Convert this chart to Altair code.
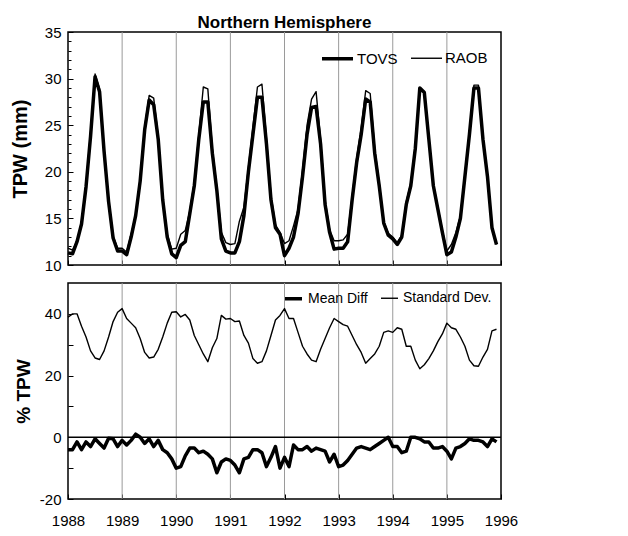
import altair as alt
import pandas as pd

# ---------------- data ----------------
year_ticks = [1988, 1989, 1990, 1991, 1992, 1993, 1994, 1995, 1996]
grid_years = [1989, 1990, 1991, 1992, 1993, 1994, 1995]
tpw_ticks = [10, 15, 20, 25, 30, 35]
tpw_minor = list(range(10, 36))
pct_ticks = [-20, -10, 0, 10, 20, 30, 40]

tovs = [
    11.3, 11.2, 12.5, 14.4, 18.4, 23.8, 30.2, 28.6, 22.2, 16.8, 12.9, 11.5,
    11.5, 11.1, 13.0, 15.3, 19.0, 24.5, 27.7, 27.2, 23.5, 17.0, 13.0, 11.2,
    10.8, 12.1, 12.5, 15.5, 18.5, 23.5, 27.5, 27.5, 22.0, 18.0, 12.8, 11.5,
    11.3, 11.3, 12.5, 15.3, 20.0, 24.0, 28.0, 28.0, 23.0, 17.0, 14.0, 13.3,
    11.0, 11.8, 13.0, 15.5, 19.5, 24.0, 26.9, 27.0, 23.0, 16.5, 13.5, 11.7,
    11.8, 11.8, 12.5, 17.0, 21.0, 24.0, 27.8, 27.5, 22.0, 18.5, 14.5, 13.2,
    12.8, 12.2, 13.0, 16.5, 18.5, 22.5, 29.0, 28.5, 23.5, 18.5, 16.0, 13.5,
    11.1, 11.4, 13.0, 15.0, 19.5, 24.0, 29.0, 29.0, 23.5, 19.5, 14.0, 12.2,
]
raob = [
    11.8, 11.6, 12.6, 14.6, 18.7, 24.2, 30.5, 28.9, 22.5, 17.0, 13.1, 11.8,
    11.8, 11.4, 13.3, 15.4, 19.2, 24.8, 28.2, 27.9, 23.8, 17.2, 13.3, 11.7,
    11.8, 13.3, 13.7, 15.8, 18.9, 24.0, 29.1, 28.9, 22.5, 18.3, 13.5, 12.4,
    12.2, 12.3, 14.7, 16.2, 20.5, 24.8, 29.1, 29.4, 23.6, 17.5, 14.3, 13.5,
    12.3, 12.6, 14.2, 16.0, 20.2, 25.0, 27.8, 28.6, 23.5, 17.0, 13.8, 12.6,
    12.6, 12.7, 13.3, 17.4, 21.5, 24.7, 28.7, 28.4, 22.5, 18.8, 14.7, 13.4,
    13.0, 12.4, 13.2, 16.8, 18.8, 22.8, 28.9, 28.6, 23.7, 18.7, 16.2, 13.7,
    11.5, 12.2, 13.5, 15.3, 19.8, 24.3, 29.3, 29.3, 23.7, 19.6, 14.1, 12.2,
]
std_dev = [
    38.9, 40.0, 40.0, 36.0, 32.5, 28.0, 25.7, 25.2, 28.0, 32.5, 37.5, 40.5,
    41.7, 38.5, 37.0, 35.5, 32.0, 27.5, 25.7, 26.0, 28.5, 32.5, 37.0, 40.5,
    40.7, 39.0, 39.8, 38.0, 33.0, 30.0, 27.0, 24.5, 29.0, 32.0, 39.5, 38.3,
    38.5, 37.5, 37.7, 33.0, 30.5, 25.5, 24.0, 24.5, 28.0, 33.0, 38.0, 39.5,
    41.7, 38.5, 38.5, 34.0, 29.5, 27.0, 25.0, 24.5, 28.5, 32.0, 35.5, 38.5,
    37.5, 36.5, 36.0, 33.0, 30.0, 27.5, 24.0, 25.5, 27.0, 29.5, 34.0, 34.5,
    34.0, 35.5, 35.0, 29.5, 29.5, 25.0, 22.2, 23.5, 25.5, 28.0, 31.0, 33.5,
    37.0, 35.5, 35.0, 32.5, 29.5, 25.0, 23.2, 23.0, 26.0, 28.5, 34.5, 35.0,
]
mean_diff = [
    -4.0, -4.0, -1.5, -4.0, -1.5, -3.0, -0.5, -2.0, -3.5, -0.3, -0.5, -3.0,
    -1.0, -2.5, -1.0, 1.0, 0.0, -2.0, -0.5, -3.0, -1.0, -4.0, -5.0, -7.0,
    -10.0, -9.5, -6.0, -3.5, -3.5, -5.0, -4.5, -5.5, -7.0, -11.5, -8.0, -7.0,
    -7.5, -9.0, -11.5, -7.0, -6.5, -4.0, -4.0, -5.0, -9.5, -6.5, -3.0, -10.0,
    -6.5, -9.5, -2.5, -4.0, -4.0, -3.0, -4.5, -3.5, -4.0, -4.5, -8.0, -5.5,
    -9.5, -9.0, -7.5, -5.5, -3.5, -3.0, -3.5, -4.0, -3.0, -2.0, -1.0, 0.0,
    -3.0, -3.0, -5.0, -4.5, 0.0, 0.0, -0.5, -1.5, -1.5, -3.5, -3.5, -3.0,
    -4.5, -7.0, -3.5, -3.0, -2.0, -0.5, -1.0, -1.0, -1.5, -3.0, -0.5, -1.5,
]

n = len(tovs)
t = [1988 + i / 12 for i in range(n)]
top_df = pd.DataFrame({"t": t * 2, "v": tovs + raob,
                       "series": ["TOVS"] * n + ["RAOB"] * n})
bot_df = pd.DataFrame({"t": t * 2, "v": mean_diff + std_dev,
                       "series2": ["Mean Diff"] * n + ["Standard Dev."] * n})
grid_df = pd.DataFrame({"g": grid_years})
minor_df = pd.DataFrame({"m": tpw_minor})
zero_df = pd.DataFrame({"z": [0]})

FONT = "Liberation Sans"
xscale = alt.Scale(domain=[1988, 1996], nice=False, zero=False)
yscale_top = alt.Scale(domain=[10, 35], nice=False, zero=False)
yscale_bot = alt.Scale(domain=[-20, 50], nice=False, zero=False)

xaxis_top = alt.Axis(values=year_ticks, labels=False, domain=False, grid=False,
                     ticks=True, tickSize=5, offset=-5, tickColor="black",
                     title=None)
xaxis_bot = alt.Axis(values=year_ticks, format="d", domain=False, grid=False,
                     ticks=True, tickSize=5, offset=-5, tickColor="black",
                     labelPadding=14, labelFontSize=15, labelColor="black",
                     labelFlush=False, title=None)

yaxis_top = alt.Axis(values=tpw_ticks, domain=False, grid=False, tickSize=5,
                     offset=-5, tickColor="black", labelPadding=7,
                     labelFontSize=15, labelColor="black", labelFlush=False,
                     title="TPW (mm)", titleFontSize=20, titleFontWeight="bold",
                     titlePadding=14, titleColor="black")
yaxis_minor = alt.Axis(values=tpw_minor, orient="left", domain=False,
                       grid=False, labels=False, tickSize=3, offset=-3,
                       tickColor="black", title=None)
yaxis_bot = alt.Axis(values=pct_ticks, domain=False, grid=False, tickSize=5,
                     offset=-5, tickColor="black", labelPadding=7,
                     labelFontSize=15, labelColor="black", labelFlush=False,
                     labelExpr="datum.value % 20 == 0 ? replace(datum.label, '\u2212', '-') : ''",
                     title="% TPW", titleFontSize=19, titleFontWeight="bold",
                     titlePadding=6, titleColor="black")

# ---------------- top panel ----------------
grid_top = alt.Chart(grid_df).mark_rule(color="#9a9a9a", strokeWidth=1).encode(
    x=alt.X("g:Q", scale=xscale, axis=xaxis_top)
)
lines_top = alt.Chart(top_df).mark_line(color="black", strokeJoin="round").encode(
    x=alt.X("t:Q", scale=xscale, axis=xaxis_top),
    y=alt.Y("v:Q", scale=yscale_top, axis=yaxis_top),
    strokeWidth=alt.StrokeWidth(
        "series:N",
        scale=alt.Scale(domain=["TOVS", "RAOB"], range=[3.5, 1.4]),
        legend=alt.Legend(title=None, orient="none", legendX=252, legendY=9,
                          direction="horizontal", symbolType="stroke",
                          symbolSize=961, symbolStrokeColor="black",
                          labelFontSize=15, labelColor="black",
                          columnPadding=10, labelOffset=2, padding=0),
    ),
)
minor_top = alt.Chart(minor_df).mark_point(opacity=0).encode(
    y=alt.Y("m:Q", scale=yscale_top, axis=yaxis_minor)
)
top = alt.layer(grid_top, lines_top, minor_top).resolve_axis(
    y="independent"
).properties(
    width=433, height=233,
    title=alt.TitleParams("Northern Hemisphere", fontSize=17,
                          fontWeight="bold", frame="group", anchor="middle",
                          offset=-7, color="black"),
)

# ---------------- bottom panel ----------------
grid_bot = alt.Chart(grid_df).mark_rule(color="#9a9a9a", strokeWidth=1).encode(
    x=alt.X("g:Q", scale=xscale, axis=xaxis_bot)
)
zero_bot = alt.Chart(zero_df).mark_rule(color="black", strokeWidth=1.5).encode(
    y=alt.Y("z:Q", scale=yscale_bot, axis=yaxis_bot)
)
lines_bot = alt.Chart(bot_df).mark_line(color="black", strokeJoin="round").encode(
    x=alt.X("t:Q", scale=xscale, axis=xaxis_bot),
    y=alt.Y("v:Q", scale=yscale_bot, axis=yaxis_bot),
    strokeWidth=alt.StrokeWidth(
        "series2:N",
        scale=alt.Scale(domain=["Mean Diff", "Standard Dev."], range=[3.5, 1.4]),
        legend=alt.Legend(title=None, orient="none", legendX=215, legendY=5,
                          direction="horizontal", symbolType="stroke",
                          symbolSize=289, symbolStrokeColor="black",
                          labelFontSize=14, labelColor="black",
                          columnPadding=10, labelOffset=4, padding=0),
    ),
)
bottom = alt.layer(grid_bot, zero_bot, lines_bot).properties(width=433, height=216)

chart = alt.vconcat(top, bottom, spacing=7).resolve_scale(
    strokeWidth="independent"
).resolve_legend(
    strokeWidth="independent"
).properties(
    padding={"left": 1, "top": 5, "right": 5, "bottom": 2}
).configure(
    font=FONT
).configure_view(
    stroke="black", strokeWidth=1.5
)

chart.save("out.html", embed_options={"renderer": "svg", "actions": False})
